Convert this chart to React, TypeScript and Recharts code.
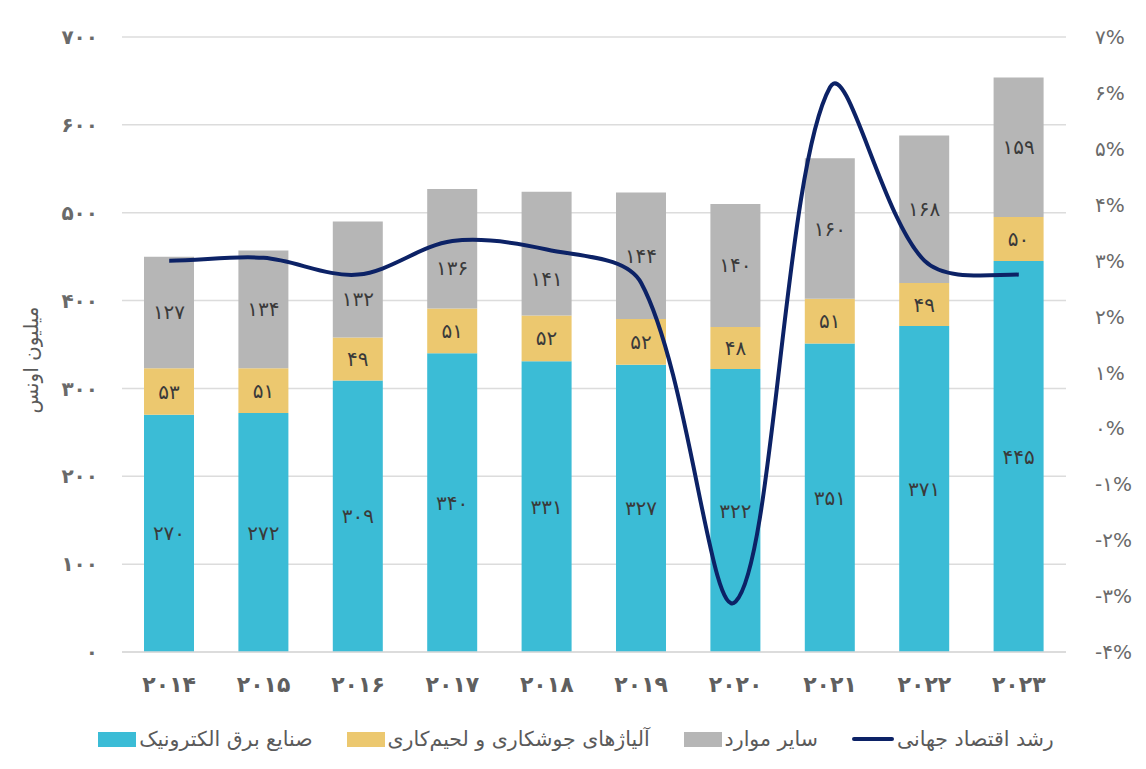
import React from "react";
import {
  ComposedChart,
  Bar,
  Line,
  XAxis,
  YAxis,
  CartesianGrid,
  Legend,
  LabelList,
} from "recharts";

const years = [2014, 2015, 2016, 2017, 2018, 2019, 2020, 2021, 2022, 2023];
const electronics = [270, 272, 309, 340, 331, 327, 322, 351, 371, 445];
const solder = [53, 51, 49, 51, 52, 52, 48, 51, 49, 50];
const others = [127, 134, 132, 136, 141, 144, 140, 160, 168, 159];
const growth = [3.0, 3.05, 2.75, 3.35, 3.2, 2.6, -3.1, 6.1, 3.0, 2.75];

const leftTicks = [0, 100, 200, 300, 400, 500, 600, 700];
const rightTicks = [-4, -3, -2, -1, 0, 1, 2, 3, 4, 5, 6, 7];

const names = {
  electronics: "صنایع برق الکترونیک",
  solder: "آلیاژهای جوشکاری و لحیم‌کاری",
  others: "سایر موارد",
  growth: "رشد اقتصاد جهانی",
  axis: "میلیون اونس",
};

const colors = {
  electronics: "#3BBCD6",
  solder: "#ECC86F",
  others: "#B6B6B6",
  growth: "#0C2266",
};

// "others" labels pushed down where the line runs through them (px)
const othersLabelNudge: Record<number, number> = { 2: 20, 3: 19, 4: 25 };

const FONT = "'DejaVu Sans', 'Noto Sans', sans-serif";

// latin digits -> persian digits
const fa = (v: any) =>
  String(v).replace(/[0-9]/g, (d) => "۰۱۲۳۴۵۶۷۸۹"[Number(d)]);

const data = years.map((y, i) => ({
  year: y,
  electronics: electronics[i],
  solder: solder[i],
  others: others[i],
  growth: growth[i],
}));

// smooth line similar to excel's "smoothed line":
// tangent handles scaled by the length of neighbouring segments
const smoothCurve = (context: any) => {
  let pts: number[][] = [];
  const dist = (a: number[], b: number[]) => Math.hypot(b[0] - a[0], b[1] - a[1]);
  return {
    areaStart() {},
    areaEnd() {},
    lineStart() {
      pts = [];
    },
    point(x: number, y: number) {
      pts.push([+x, +y]);
    },
    lineEnd() {
      if (!pts.length) return;
      context.moveTo(pts[0][0], pts[0][1]);
      for (let i = 0; i < pts.length - 1; i++) {
        const hasPrev = !!pts[i - 1];
        const hasNext = !!pts[i + 2];
        const p0 = pts[i - 1] || pts[i];
        const p1 = pts[i];
        const p2 = pts[i + 1];
        const p3 = pts[i + 2] || p2;
        const d12 = dist(p1, p2);
        const a = hasPrev ? d12 / (dist(p0, p1) + d12) / 3 : 0;
        const b = hasNext ? d12 / (d12 + dist(p2, p3)) / 3 : 0;
        context.bezierCurveTo(
          p1[0] + (p2[0] - p0[0]) * a + (hasPrev ? 0 : (p2[0] - p1[0]) / 3),
          p1[1] + (p2[1] - p0[1]) * a,
          p2[0] - (p3[0] - p1[0]) * b - (hasNext ? 0 : (p2[0] - p1[0]) / 3),
          p2[1] - (p3[1] - p1[1]) * b,
          p2[0],
          p2[1]
        );
      }
    },
  };
};

const LegendContent = () => {
  const items = [
    { key: "electronics", type: "box" },
    { key: "solder", type: "box" },
    { key: "others", type: "box" },
    { key: "growth", type: "line" },
  ];
  return (
    <div
      style={{
        display: "flex",
        justifyContent: "center",
        alignItems: "center",
        gap: 34,
        height: 60,
        fontFamily: FONT,
        fontSize: 20.5,
        color: "#5a5a5a",
        paddingLeft: 6,
      }}
    >
      {items.map((it) => (
        <div key={it.key} style={{ display: "flex", alignItems: "center", gap: 3 }}>
          {it.type === "box" ? (
            <div
              style={{
                width: 38,
                height: 15,
                background: (colors as any)[it.key],
              }}
            />
          ) : (
            <div
              style={{
                width: 42,
                height: 4,
                borderRadius: 2,
                background: colors.growth,
              }}
            />
          )}
          <span dir="rtl">{(names as any)[it.key]}</span>
        </div>
      ))}
    </div>
  );
};

const labelStyle = { fontFamily: FONT, fontSize: 20, fill: "#3a3a3a" };

const OthersLabel = (props: any) => {
  const { x, y, width, height, value, index } = props;
  const dy = othersLabelNudge[index] || 0;
  return (
    <text
      x={x + width / 2}
      y={y + height / 2 + dy}
      textAnchor="middle"
      dominantBaseline="central"
      style={labelStyle}
    >
      {fa(value)}
    </text>
  );
};

const AxisTitle = () => (
  <text
    x={31}
    y={360}
    transform="rotate(-90, 31, 360)"
    textAnchor="middle"
    dominantBaseline="central"
    style={{ fontFamily: FONT, fontSize: 20, fill: "#595959" }}
  >
    {names.axis}
  </text>
);

export default function App() {
  return (
    <div style={{ width: 1146, height: 769, background: "#fff" }}>
      <style>{`body{margin:0}`}</style>
      <ComposedChart
        width={1146}
        height={769}
        data={data}
        margin={{ top: 37, right: 0, bottom: 0, left: 0 }}
        barSize={50}
      >
        <CartesianGrid
          yAxisId="left"
          vertical={false}
          stroke="#dcdcdc"
          strokeWidth={1.5}
        />
        <XAxis
          dataKey="year"
          tickFormatter={fa}
          tickLine={false}
          axisLine={{ stroke: "#d9d9d9", strokeWidth: 1.5 }}
          tickMargin={18}
          height={57}
          tick={{ fontFamily: FONT, fontSize: 22, fontWeight: 700, fill: "#5f5f5f" }}
        />
        <YAxis
          yAxisId="left"
          width={122}
          domain={[0, 700]}
          ticks={leftTicks}
          tickFormatter={fa}
          tickLine={false}
          axisLine={false}
          tickMargin={18}
          tick={{ fontFamily: FONT, fontSize: 20, fontWeight: 700, fill: "#6a6a6a" }}
          label={<AxisTitle />}
        />
        <YAxis
          yAxisId="right"
          orientation="right"
          width={80}
          domain={[-4, 7]}
          ticks={rightTicks}
          tickFormatter={(v) => fa(v) + "%"}
          tickLine={false}
          axisLine={false}
          tickMargin={23}
          tick={{ fontFamily: FONT, fontSize: 20, fill: "#6a6a6a" }}
        />
        <Legend verticalAlign="bottom" height={60} content={<LegendContent />} />
        <Bar
          yAxisId="left"
          dataKey="electronics"
          stackId="a"
          fill={colors.electronics}
          isAnimationActive={false}
        >
          <LabelList dataKey="electronics" position="center" formatter={fa} style={labelStyle} />
        </Bar>
        <Bar
          yAxisId="left"
          dataKey="solder"
          stackId="a"
          fill={colors.solder}
          isAnimationActive={false}
        >
          <LabelList dataKey="solder" position="center" formatter={fa} style={labelStyle} />
        </Bar>
        <Bar
          yAxisId="left"
          dataKey="others"
          stackId="a"
          fill={colors.others}
          isAnimationActive={false}
        >
          <LabelList dataKey="others" content={<OthersLabel />} />
        </Bar>
        <Line
          yAxisId="right"
          dataKey="growth"
          type={smoothCurve as any}
          stroke={colors.growth}
          strokeWidth={4}
          dot={false}
          activeDot={false}
          isAnimationActive={false}
        />
      </ComposedChart>
    </div>
  );
}
